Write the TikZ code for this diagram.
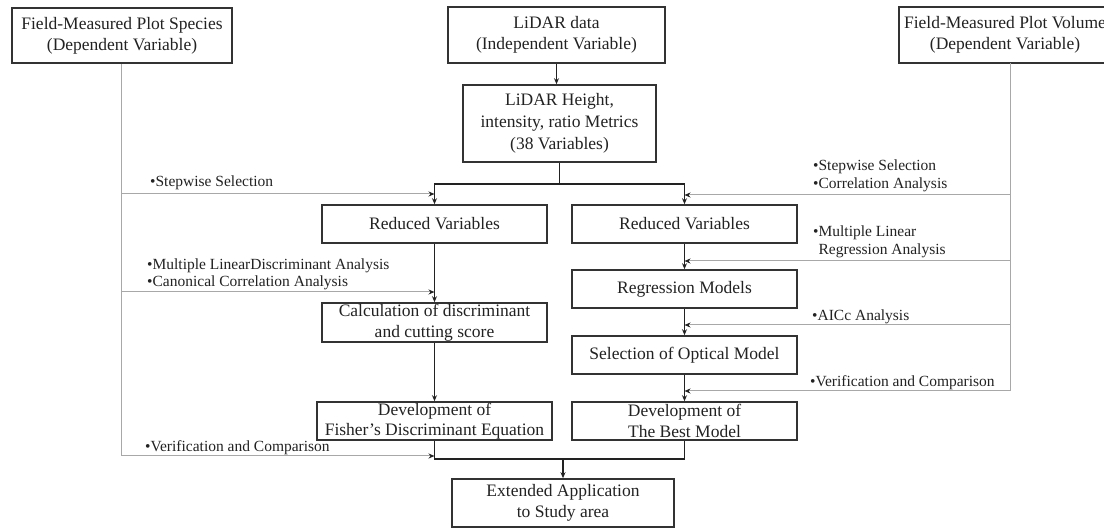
\documentclass[tikz,border=0pt]{standalone}
\usepackage{fontspec}
\setmainfont{Liberation Serif}
\usetikzlibrary{arrows.meta,calc}
\definecolor{ink}{HTML}{222222}
\definecolor{boxline}{HTML}{333333}
\definecolor{feed}{HTML}{A8A8A8}
\begin{document}
\begin{tikzpicture}[x=1pt,y=-1pt,
  box/.style={draw=boxline,line width=1.6pt,inner sep=0pt,align=center,text=ink,font=\fontsize{17.5}{21}\selectfont},
  note/.style={inner sep=0pt,align=left,anchor=west,text=ink,font=\fontsize{15.5}{17.5}\selectfont},
  flow/.style={draw=ink,line width=1.6pt},
  arr/.style={-{Stealth[length=6pt,width=5pt]}},
  feedline/.style={draw=feed,line width=1pt},
  feedarr/.style={feedline,-{Stealth[length=6pt,width=5pt,color=ink]}}]
\useasboundingbox (0,0) rectangle (1104,529);

% boxes
\node[box,minimum width=220pt,minimum height=55pt] (spec) at (122,35.5) {Field-Measured Plot Species\\(Dependent Variable)};
\node[box,minimum width=217pt,minimum height=56pt] (lidar) at (556.5,35) {LiDAR data\\(Independent Variable)};
\node[box,minimum width=212pt,minimum height=56pt] (vol) at (1005,35) {Field-Measured Plot Volume\\(Dependent Variable)};
\node[box,minimum width=193pt,minimum height=77pt,font=\fontsize{17.5}{22}\selectfont] (metrics) at (559.5,123.5) {LiDAR Height,\\intensity, ratio Metrics\\(38 Variables)};
\node[box,minimum width=225pt,minimum height=38pt] (rvL) at (434.5,224) {Reduced Variables};
\node[box,minimum width=225pt,minimum height=39pt,font=\fontsize{17.5}{20.5}\selectfont] (calc) at (434.5,322.5) {Calculation of discriminant\\and cutting score};
\node[box,minimum width=235pt,minimum height=38pt,font=\fontsize{17.5}{20.5}\selectfont] (fisher) at (434.5,421) {Development of\\Fisher's Discriminant Equation};
\node[box,minimum width=225pt,minimum height=38pt] (rvR) at (684.5,224) {Reduced Variables};
\node[box,minimum width=225pt,minimum height=38pt] (reg) at (684.5,289) {Regression Models};
\node[box,minimum width=225pt,minimum height=38pt] (sel) at (684.5,355) {Selection of Optical Model};
\node[box,minimum width=225pt,minimum height=38pt,font=\fontsize{17.5}{20.5}\selectfont] (best) at (684.5,421) {Development of\\The Best Model};
\node[box,minimum width=222pt,minimum height=48pt] (ext) at (563,503) {Extended Application\\to Study area};

% main flow
\draw[flow,arr] (lidar.south) -- (metrics.north -| lidar.south);
\coordinate (sp) at ($(metrics.south)+(0,21)$);
\draw[flow] (metrics.south) -- (sp);
\draw[flow,arr] (sp) -| (rvL.north);
\draw[flow,arr] (sp) -| (rvR.north);
\draw[flow,arr] (rvL.south) -- (calc.north);
\draw[flow,arr] (calc.south) -- (fisher.north);
\draw[flow,arr] (rvR.south) -- (reg.north);
\draw[flow,arr] (reg.south) -- (sel.north);
\draw[flow,arr] (sel.south) -- (best.north);
\coordinate (mg) at (563,459);
\draw[flow] (fisher.south) |- (mg) -| (best.south);
\draw[flow,arr] (mg) -- (ext.north);

% feedback lines left
\coordinate (fl1) at (121,194);
\coordinate (fl2) at (121,292);
\coordinate (fl3) at (121,456);
\draw[feedline] (spec.south -| fl1) -- (fl3);
\draw[feedarr] (fl1) -- (fl1 -| rvL.north);
\draw[feedarr] (fl2) -- (fl2 -| rvL.north);
\draw[feedarr] (fl3) -- (fl3 -| rvL.north);

% feedback lines right
\coordinate (vtop) at (1010,63);
\coordinate (fr1) at (1010,195);
\coordinate (fr2) at (1010,261);
\coordinate (fr3) at (1010,325);
\coordinate (fr4) at (1010,391);
\draw[feedline] (vtop) -- (fr4);
\draw[feedarr] (fr1) -- (fr1 -| rvR.north);
\draw[feedarr] (fr2) -- (fr2 -| rvR.north);
\draw[feedarr] (fr3) -- (fr3 -| rvR.north);
\draw[feedarr] (fr4) -- (fr4 -| rvR.north);

% notes
\node[note] (nL1) at (150,183) {•Stepwise Selection};
\node[note] (nL2) at (147,274.5) {•Multiple LinearDiscriminant Analysis\\•Canonical Correlation Analysis};
\node[note] (nL3) at (145,448) {•Verification and Comparison};
\node[note] (nR1) at (813,176) {•Stepwise Selection\\•Correlation Analysis};
\node[note] (nR2) at (813,242) {•Multiple Linear\\\hphantom{•}Regression Analysis};
\node[note] (nR3) at (812,317) {•AICc Analysis};
\node[note] (nR4) at (810,383) {•Verification and Comparison};
\end{tikzpicture}
\end{document}
